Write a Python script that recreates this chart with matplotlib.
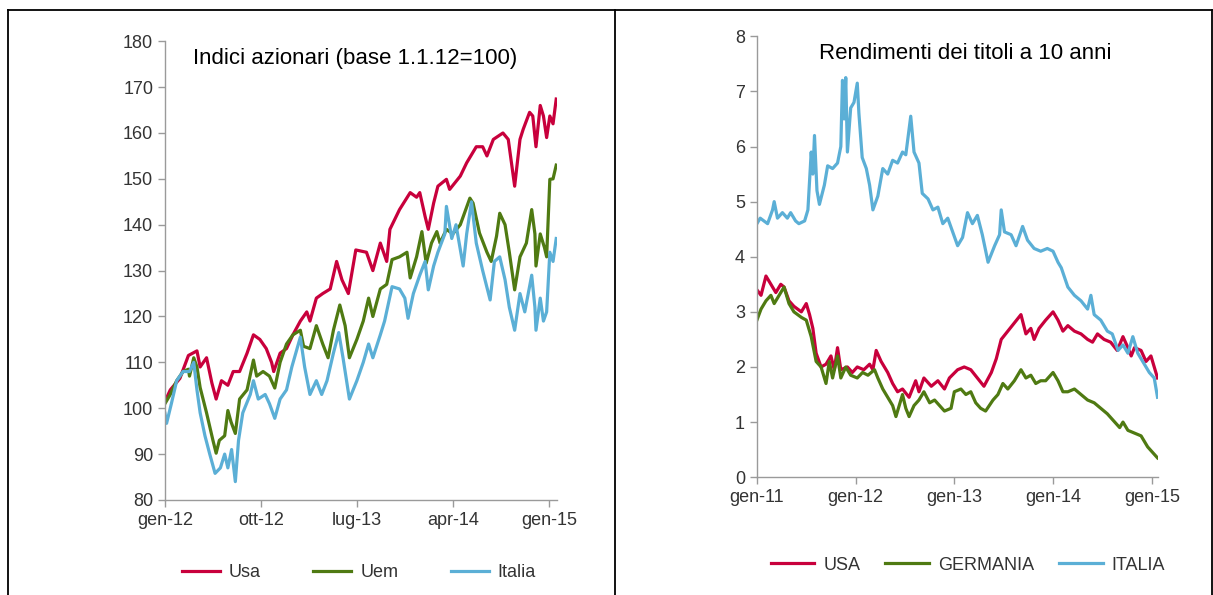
import matplotlib
matplotlib.use("Agg")
import matplotlib.pyplot as plt
from matplotlib.lines import Line2D

plt.rcParams['font.family'] = ['Liberation Sans', 'DejaVu Sans']

# ---- Indici azionari (mesi da gen-12) ----
usa_m = [0, 0.5, 1.4, 2.2, 3.0, 3.3, 3.9, 4.4, 4.8, 5.3, 5.9, 6.4, 7.0, 7.7, 8.3, 8.9, 9.5, 10.0, 10.2,
         10.8, 11.4, 12.0, 12.7, 13.3, 13.6, 14.2, 14.8, 15.5, 16.1, 16.6, 17.2, 17.9, 18.9, 19.5, 20.2,
         20.8, 21.1, 22.0, 23.0, 23.6, 23.9, 24.4, 24.7, 25.2, 25.6, 26.4, 26.7, 27.7, 28.3, 29.2, 29.8,
         30.2, 30.8, 31.7, 32.2, 32.8, 33.3, 33.6, 34.2, 34.5, 34.8, 35.2, 35.5, 35.8, 36.1, 36.4, 36.7]
usa_v = [101.5, 104, 106.5, 111.5, 112.5, 109, 111, 105.5, 102, 106, 105, 108, 108, 112, 116, 115, 113, 110, 108,
         112, 113, 116, 119, 121, 119, 124, 125, 126, 132, 128, 125, 134.5, 134, 130, 136,
         132, 139, 143.3, 147, 146, 147, 141.8, 139, 144.7, 148.4, 149.9, 147.7, 150.6, 153.5, 157, 157,
         155, 158.6, 160, 158.6, 148.4, 158.6, 160.8, 164.5, 163.7, 157, 166, 163.7, 159, 163.7, 162, 167.4]

uem_m = [0, 0.5, 1.1, 1.7, 2.2, 2.3, 2.7, 3.0, 3.3, 3.9, 4.5, 4.8, 5.1, 5.6, 5.9, 6.2, 6.6, 7.0, 7.7, 8.3,
         8.6, 9.2, 9.8, 10.3, 10.8, 11.4, 12.0, 12.7, 13.0, 13.6, 14.2, 14.8, 15.3, 15.8, 16.4, 16.9, 17.3,
         18.0, 18.6, 19.1, 19.5, 20.2, 20.8, 21.3, 22.0, 22.7, 23.0, 23.6, 24.1, 24.5, 25.0, 25.5, 25.8,
         26.4, 27.0, 27.7, 28.6, 28.9, 29.5, 30.2, 30.6, 31.1, 31.4, 31.9, 32.3, 32.8, 33.3, 33.9, 34.4,
         34.7, 34.8, 35.2, 35.6, 35.8, 36.1, 36.4, 36.7]
uem_v = [101, 103, 106, 108, 108.5, 107, 111, 109, 104.5, 99, 93, 90.2, 93, 94, 99.5, 97, 94.5, 102, 104, 110.5,
         107, 108, 107, 104.4, 110, 114, 116, 117, 113.5, 113, 118, 114, 111, 117, 122.5, 118, 111,
         115, 119, 124, 120, 126, 127, 132.4, 133, 134, 128.4, 133, 138.5, 131.6, 136, 138.5, 136,
         139, 138, 140, 145.8, 144.7, 138.2, 134, 132, 137.5, 142.5, 140, 134, 125.8, 133, 136, 143.3,
         138, 131, 138, 135, 133, 149.9, 150, 153]

ita_m = [0, 0.15, 0.6, 1.1, 1.7, 2.3, 2.7, 3.0, 3.3, 3.75, 4.2, 4.7, 5.2, 5.6, 5.9, 6.25, 6.6, 6.9, 7.3, 8.0,
         8.3, 8.75, 9.4, 9.8, 10.3, 10.8, 11.4, 11.9, 12.7, 13.1, 13.6, 14.2, 14.7, 15.2, 15.8, 16.3, 16.7,
         17.3, 18.0, 18.6, 19.1, 19.5, 20.2, 20.6, 21.3, 22.0, 22.5, 22.8, 23.3, 23.9, 24.4, 24.7, 25.2,
         25.6, 26.25, 26.4, 26.9, 27.3, 27.97, 28.3, 28.75, 29.2, 29.8, 30.5, 30.9, 31.4, 31.9, 32.3, 32.8,
         33.3, 33.75, 34.4, 34.7, 34.8, 35.2, 35.5, 35.8, 36.1, 36.4, 36.7]
ita_v = [98.9, 96.7, 101, 106, 108, 108, 110, 104, 99, 94, 90, 85.8, 87, 90, 87, 91, 84, 93, 99, 103,
         106, 102, 103, 101, 97.8, 102, 104, 109, 115.5, 109, 103, 106, 103, 106, 112, 116.5, 111,
         102, 106, 110, 114, 111, 116, 119, 126.5, 126, 124, 119.6, 125, 129, 132, 125.8, 131,
         134, 138, 144, 137, 140, 131, 138, 145, 136, 130, 123.6, 132, 133, 128, 122, 117,
         125, 121, 129, 122, 117, 124, 119, 121, 134, 132, 137]

# ---- Rendimenti a 10 anni (mesi da gen-11) ----
r_usa_m = [0, 0.5, 1.1, 1.7, 2.3, 2.9, 3.3, 3.9, 4.5, 5.4, 6.0, 6.4, 6.8, 7.2, 7.8, 8.4, 9.0, 9.4, 9.8, 10.2,
           11.0, 11.6, 12.2, 13.0, 13.7, 14.1, 14.5, 15.1, 15.9, 16.5, 17.1, 17.7, 18.5, 19.3, 19.7, 20.3,
           21.2, 22.0, 22.8, 23.4, 24.4, 25.2, 26.0, 26.8, 27.6, 28.5, 29.1, 29.7, 30.5, 31.3, 32.1, 32.7,
           33.3, 33.7, 34.3, 35.1, 36.0, 36.6, 37.2, 37.8, 38.6, 39.4, 40.2, 40.8, 41.4, 42.2, 43.0, 43.8,
           44.5, 45.1, 45.5, 45.9, 46.7, 47.3, 47.9, 48.3, 48.7]
r_usa_v = [3.4, 3.3, 3.65, 3.5, 3.35, 3.5, 3.45, 3.2, 3.1, 3.0, 3.15, 2.95, 2.7, 2.25, 2.0, 2.05, 2.2, 1.95, 2.35, 1.95,
           2.0, 1.9, 2.0, 1.95, 2.05, 1.95, 2.3, 2.1, 1.9, 1.7, 1.55, 1.6, 1.45, 1.75, 1.55, 1.8,
           1.65, 1.75, 1.6, 1.8, 1.95, 2.0, 1.95, 1.8, 1.65, 1.9, 2.15, 2.5, 2.65, 2.8, 2.95, 2.6,
           2.7, 2.5, 2.7, 2.85, 3.0, 2.85, 2.65, 2.75, 2.65, 2.6, 2.5, 2.45, 2.6, 2.5, 2.45, 2.3,
           2.55, 2.35, 2.2, 2.35, 2.3, 2.1, 2.2, 2.0, 1.8]

r_ger_m = [0, 0.5, 1.1, 1.7, 2.1, 2.7, 3.3, 3.9, 4.5, 5.4, 6.0, 6.6, 7.2, 7.8, 8.4, 8.8, 9.2, 9.8, 10.2, 10.8,
           11.4, 12.2, 12.85, 13.5, 14.3, 14.7, 15.3, 15.9, 16.5, 16.9, 17.3, 17.7, 18.1, 18.5, 19.1, 19.7,
           20.3, 21.0, 21.6, 22.2, 22.8, 23.6, 24.0, 24.8, 25.4, 26.0, 26.6, 27.2, 27.8, 28.7, 29.3, 29.9,
           30.5, 31.3, 32.1, 32.7, 33.3, 33.9, 34.5, 35.1, 36.0, 36.6, 37.2, 37.8, 38.6, 39.4, 40.2, 41.0,
           41.8, 42.6, 43.5, 44.1, 44.5, 45.1, 45.9, 46.7, 47.5, 48.1, 48.7]
r_ger_v = [2.85, 3.05, 3.2, 3.3, 3.15, 3.3, 3.45, 3.15, 3.0, 2.9, 2.85, 2.55, 2.1, 2.0, 1.7, 2.1, 1.8, 2.2, 1.8, 2.0,
           1.85, 1.8, 1.9, 1.85, 1.95, 1.8, 1.6, 1.45, 1.3, 1.1, 1.3, 1.5, 1.25, 1.1, 1.3, 1.4,
           1.55, 1.35, 1.4, 1.3, 1.2, 1.25, 1.55, 1.6, 1.5, 1.55, 1.35, 1.25, 1.2, 1.4, 1.5, 1.7,
           1.6, 1.75, 1.95, 1.8, 1.85, 1.7, 1.75, 1.75, 1.9, 1.75, 1.55, 1.55, 1.6, 1.5, 1.4, 1.35,
           1.25, 1.15, 1.0, 0.9, 1.0, 0.85, 0.8, 0.75, 0.55, 0.45, 0.35]

r_ita_m = [0, 0.4, 1.3, 1.9, 2.1, 2.5, 3.1, 3.7, 4.1, 4.7, 5.1, 5.8, 6.2, 6.6, 6.8, 7.0, 7.3, 7.6, 8.2, 8.6,
           9.2, 9.8, 10.2, 10.4, 10.6, 10.8, 11.0, 11.4, 11.8, 12.2, 12.4, 12.8, 13.3, 13.7, 14.1, 14.7,
           15.3, 15.9, 16.5, 17.1, 17.7, 18.1, 18.7, 19.1, 19.7, 20.1, 20.8, 21.4, 22.0, 22.6, 23.2, 23.8,
           24.4, 25.0, 25.6, 26.2, 26.8, 27.4, 28.1, 28.9, 29.5, 29.7, 30.1, 30.9, 31.5, 32.3, 32.9, 33.7,
           34.5, 35.3, 36.0, 36.6, 37.0, 37.8, 38.6, 39.4, 40.2, 40.6, 41.0, 41.8, 42.6, 43.2, 43.9, 44.5,
           45.1, 45.7, 46.3, 47.1, 47.7, 48.3, 48.7]
r_ita_v = [4.6, 4.7, 4.6, 4.85, 5.0, 4.7, 4.8, 4.7, 4.8, 4.65, 4.6, 4.65, 4.85, 5.9, 5.5, 6.2, 5.2, 4.95, 5.3, 5.65,
           5.6, 5.7, 6.0, 7.2, 6.5, 7.25, 5.9, 6.7, 6.8, 7.15, 6.6, 5.8, 5.6, 5.3, 4.85, 5.1,
           5.6, 5.5, 5.75, 5.7, 5.9, 5.85, 6.55, 5.9, 5.7, 5.15, 5.05, 4.85, 4.9, 4.6, 4.7, 4.45,
           4.2, 4.35, 4.8, 4.6, 4.75, 4.4, 3.9, 4.2, 4.4, 4.85, 4.45, 4.4, 4.2, 4.55, 4.3, 4.15,
           4.1, 4.15, 4.1, 3.9, 3.8, 3.45, 3.3, 3.2, 3.05, 3.3, 2.95, 2.85, 2.65, 2.6, 2.3, 2.4,
           2.25, 2.55, 2.25, 2.05, 1.9, 1.8, 1.45]

left_ticks = [0, 9, 18, 27, 36]
left_labels = ["gen-12", "ott-12", "lug-13", "apr-14", "gen-15"]
right_ticks = [0, 12, 24, 36, 48]
right_labels = ["gen-11", "gen-12", "gen-13", "gen-14", "gen-15"]

RED = "#C8003C"
GREEN = "#4F7A12"
BLUE = "#5BAFD6"
TXT = "#333333"
lw = 2.3

fig = plt.figure(figsize=(12.13, 5.95), dpi=100)

# outer frame and divider
for xs, ys in [([0.0066, 0.0066], [0, 0.983]), ([0.0066, 0.999], [0.983, 0.983]),
               ([0.507, 0.507], [0, 0.983]), ([0.999, 0.999], [0, 0.983])]:
    fig.add_artist(Line2D(xs, ys, color="black", lw=1.3, transform=fig.transFigure))


def style(ax):
    for s in ["top", "right"]:
        ax.spines[s].set_visible(False)
    for s in ["left", "bottom"]:
        ax.spines[s].set_color("#9a9a9a")
        ax.spines[s].set_linewidth(1.0)
    ax.tick_params(colors="#9a9a9a", labelcolor=TXT, labelsize=13, length=5, width=1)


ax1 = fig.add_axes([0.136, 0.1597, 0.323, 0.771])
ax1.plot(usa_m, usa_v, color=RED, lw=lw, label="Usa")
ax1.plot(uem_m, uem_v, color=GREEN, lw=lw, label="Uem")
ax1.plot(ita_m, ita_v, color=BLUE, lw=lw, label="Italia")
ax1.set_xlim(0, 36.75)
ax1.set_ylim(80, 180)
ax1.set_yticks(range(80, 181, 10))
ax1.set_xticks(left_ticks)
ax1.set_xticklabels(left_labels)
style(ax1)
ax1.text(0.485, 0.985, "Indici azionari (base 1.1.12=100)", transform=ax1.transAxes,
         ha="center", va="top", fontsize=16, color="black")
ax1.legend(loc="center", bbox_to_anchor=(0.296, 0.037), bbox_transform=fig.transFigure,
           ncol=3, frameon=False, fontsize=13, handlelength=2.1, handletextpad=0.5,
           columnspacing=2.9, labelcolor=TXT)

ax2 = fig.add_axes([0.624, 0.198, 0.3306, 0.741])
ax2.plot(r_usa_m, r_usa_v, color=RED, lw=lw, label="USA")
ax2.plot(r_ger_m, r_ger_v, color=GREEN, lw=lw, label="GERMANIA")
ax2.plot(r_ita_m, r_ita_v, color=BLUE, lw=lw, label="ITALIA")
ax2.set_xlim(0, 48.75)
ax2.set_ylim(0, 8)
ax2.set_yticks(range(0, 9))
ax2.set_xticks(right_ticks)
ax2.set_xticklabels(right_labels)
style(ax2)
ax2.text(0.52, 0.985, "Rendimenti dei titoli a 10 anni", transform=ax2.transAxes,
         ha="center", va="top", fontsize=16, color="black")
ax2.legend(loc="center", bbox_to_anchor=(0.798, 0.05), bbox_transform=fig.transFigure,
           ncol=3, frameon=False, fontsize=13, handlelength=2.4, handletextpad=0.5,
           columnspacing=1.4, labelcolor=TXT)

fig.savefig("out.png", dpi=100)
